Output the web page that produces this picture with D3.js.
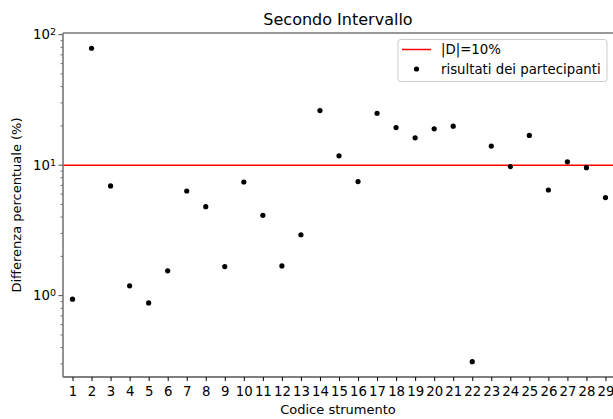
<!DOCTYPE html>
<html>
<head>
<meta charset="utf-8">
<script src="https://cdn.jsdelivr.net/npm/d3@7"></script>
<style>
  body { margin: 0; background: #fff; }
  text { font-family: "DejaVu Sans", sans-serif; }
</style>
</head>
<body>
<div id="chart"></div>
<script>
const codes = d3.range(1, 30);
const values = [0.94, 78.7, 6.93, 1.19, 0.88, 1.55, 6.34, 4.81, 1.67, 7.43,
                4.13, 1.69, 2.93, 26.2, 11.8, 7.48, 25.0, 19.4, 16.2, 19.0,
                19.9, 0.312, 14.0, 9.75, 16.9, 6.45, 10.6, 9.57, 5.64];
const threshold = 10;
const legendLabels = ['|D|=10%', 'risultati dei partecipanti'];

const W = 613, H = 419;
const margin = { left: 63, top: 33, right: -2, bottom: 42 };

const svg = d3.select('#chart').append('svg')
    .attr('width', W).attr('height', H);

const x = d3.scaleLinear().domain([0.5, 29.5]).range([margin.left, W - margin.right]);
const y = d3.scaleLog().domain([0.238, 103]).range([H - margin.bottom, margin.top]);

// clip
svg.append('defs').append('clipPath').attr('id', 'plot')
  .append('rect').attr('x', margin.left).attr('y', margin.top)
  .attr('width', W - margin.right - margin.left).attr('height', H - margin.bottom - margin.top);

const plot = svg.append('g').attr('clip-path', 'url(#plot)');

// threshold line
plot.append('line')
    .attr('x1', margin.left).attr('x2', W)
    .attr('y1', y(threshold)).attr('y2', y(threshold))
    .attr('stroke', '#ff0000').attr('stroke-width', 1.5);

plot.selectAll('circle.pt').data(values).join('circle')
    .attr('class', 'pt')
    .attr('cx', (d, i) => x(codes[i]))
    .attr('cy', d => y(d))
    .attr('r', 2.6)
    .attr('fill', '#000');

// x axis
const xAxis = svg.append('g')
    .attr('transform', `translate(0,${H - margin.bottom})`)
    .call(d3.axisBottom(x).tickValues(codes).tickFormat(d3.format('d')).tickSize(4).tickSizeOuter(0));
xAxis.select('.domain').remove();
xAxis.selectAll('.tick line').attr('stroke', '#000');
xAxis.selectAll('.tick text').attr('font-size', 13.3).attr('dy', '0.9em').attr('fill', '#000');
svg.append('line')
    .attr('x1', margin.left).attr('x2', W)
    .attr('y1', H - margin.bottom).attr('y2', H - margin.bottom)
    .attr('stroke', '#000').attr('stroke-width', 1.2);

// y axis
const majors = [1, 10, 100];
const minors = [];
[0.1, 1, 10].forEach(b => d3.range(2, 10).forEach(m => {
  const v = b * m;
  if (v >= y.domain()[0] && v <= y.domain()[1]) minors.push(v);
}));
const yAxis = svg.append('g').attr('transform', `translate(${margin.left},0)`);
yAxis.selectAll('line.minor').data(minors).join('line')
    .attr('x1', -2.5).attr('x2', 0)
    .attr('y1', d => y(d)).attr('y2', d => y(d))
    .attr('stroke', '#444').attr('stroke-width', 0.8);
yAxis.selectAll('line.major').data(majors).join('line')
    .attr('x1', -4.5).attr('x2', 0)
    .attr('y1', d => y(d)).attr('y2', d => y(d))
    .attr('stroke', '#444').attr('stroke-width', 1);
const yl = yAxis.selectAll('text.lab').data(majors).join('text')
    .attr('x', -7).attr('y', d => y(d)).attr('dy', '0.36em')
    .attr('text-anchor', 'end').attr('font-size', 13.3).attr('fill', '#000');
yl.append('tspan').text('10');
yl.append('tspan').attr('dy', '-0.45em').attr('font-size', 9.5).text(d => Math.round(Math.log10(d)));

// left & top spines
svg.append('line')
    .attr('x1', margin.left).attr('x2', margin.left)
    .attr('y1', margin.top).attr('y2', H - margin.bottom)
    .attr('stroke', '#777').attr('stroke-width', 1.6);
svg.append('line')
    .attr('x1', margin.left).attr('x2', W)
    .attr('y1', margin.top).attr('y2', margin.top)
    .attr('stroke', '#777').attr('stroke-width', 1.6);

// titles
svg.append('text').attr('x', 338).attr('y', 25).attr('text-anchor', 'middle')
    .attr('font-size', 16).text('Secondo Intervallo');
svg.append('text').attr('x', 338).attr('y', 414).attr('text-anchor', 'middle')
    .attr('font-size', 13).text('Codice strumento');
svg.append('text').attr('transform', `translate(21,${(margin.top + H - margin.bottom) / 2}) rotate(-90)`)
    .attr('text-anchor', 'middle').attr('font-size', 13).text('Differenza percentuale (%)');

// legend
const lg = svg.append('g').attr('transform', 'translate(398,39.5)');
lg.append('rect').attr('width', 209).attr('height', 42).attr('rx', 2.5)
    .attr('fill', '#fff').attr('fill-opacity', 0.8).attr('stroke', '#ccc');
lg.append('line').attr('x1', 4).attr('x2', 33).attr('y1', 10).attr('y2', 10)
    .attr('stroke', '#ff0000').attr('stroke-width', 1.5);
lg.append('circle').attr('cx', 18.5).attr('cy', 29.5).attr('r', 2.6).attr('fill', '#000');
lg.selectAll('text').data(legendLabels).join('text')
    .attr('x', 43).attr('y', (d, i) => 10 + i * 19.5).attr('dy', '0.36em')
    .attr('font-size', 13.3).text(d => d);
</script>
</body>
</html>
